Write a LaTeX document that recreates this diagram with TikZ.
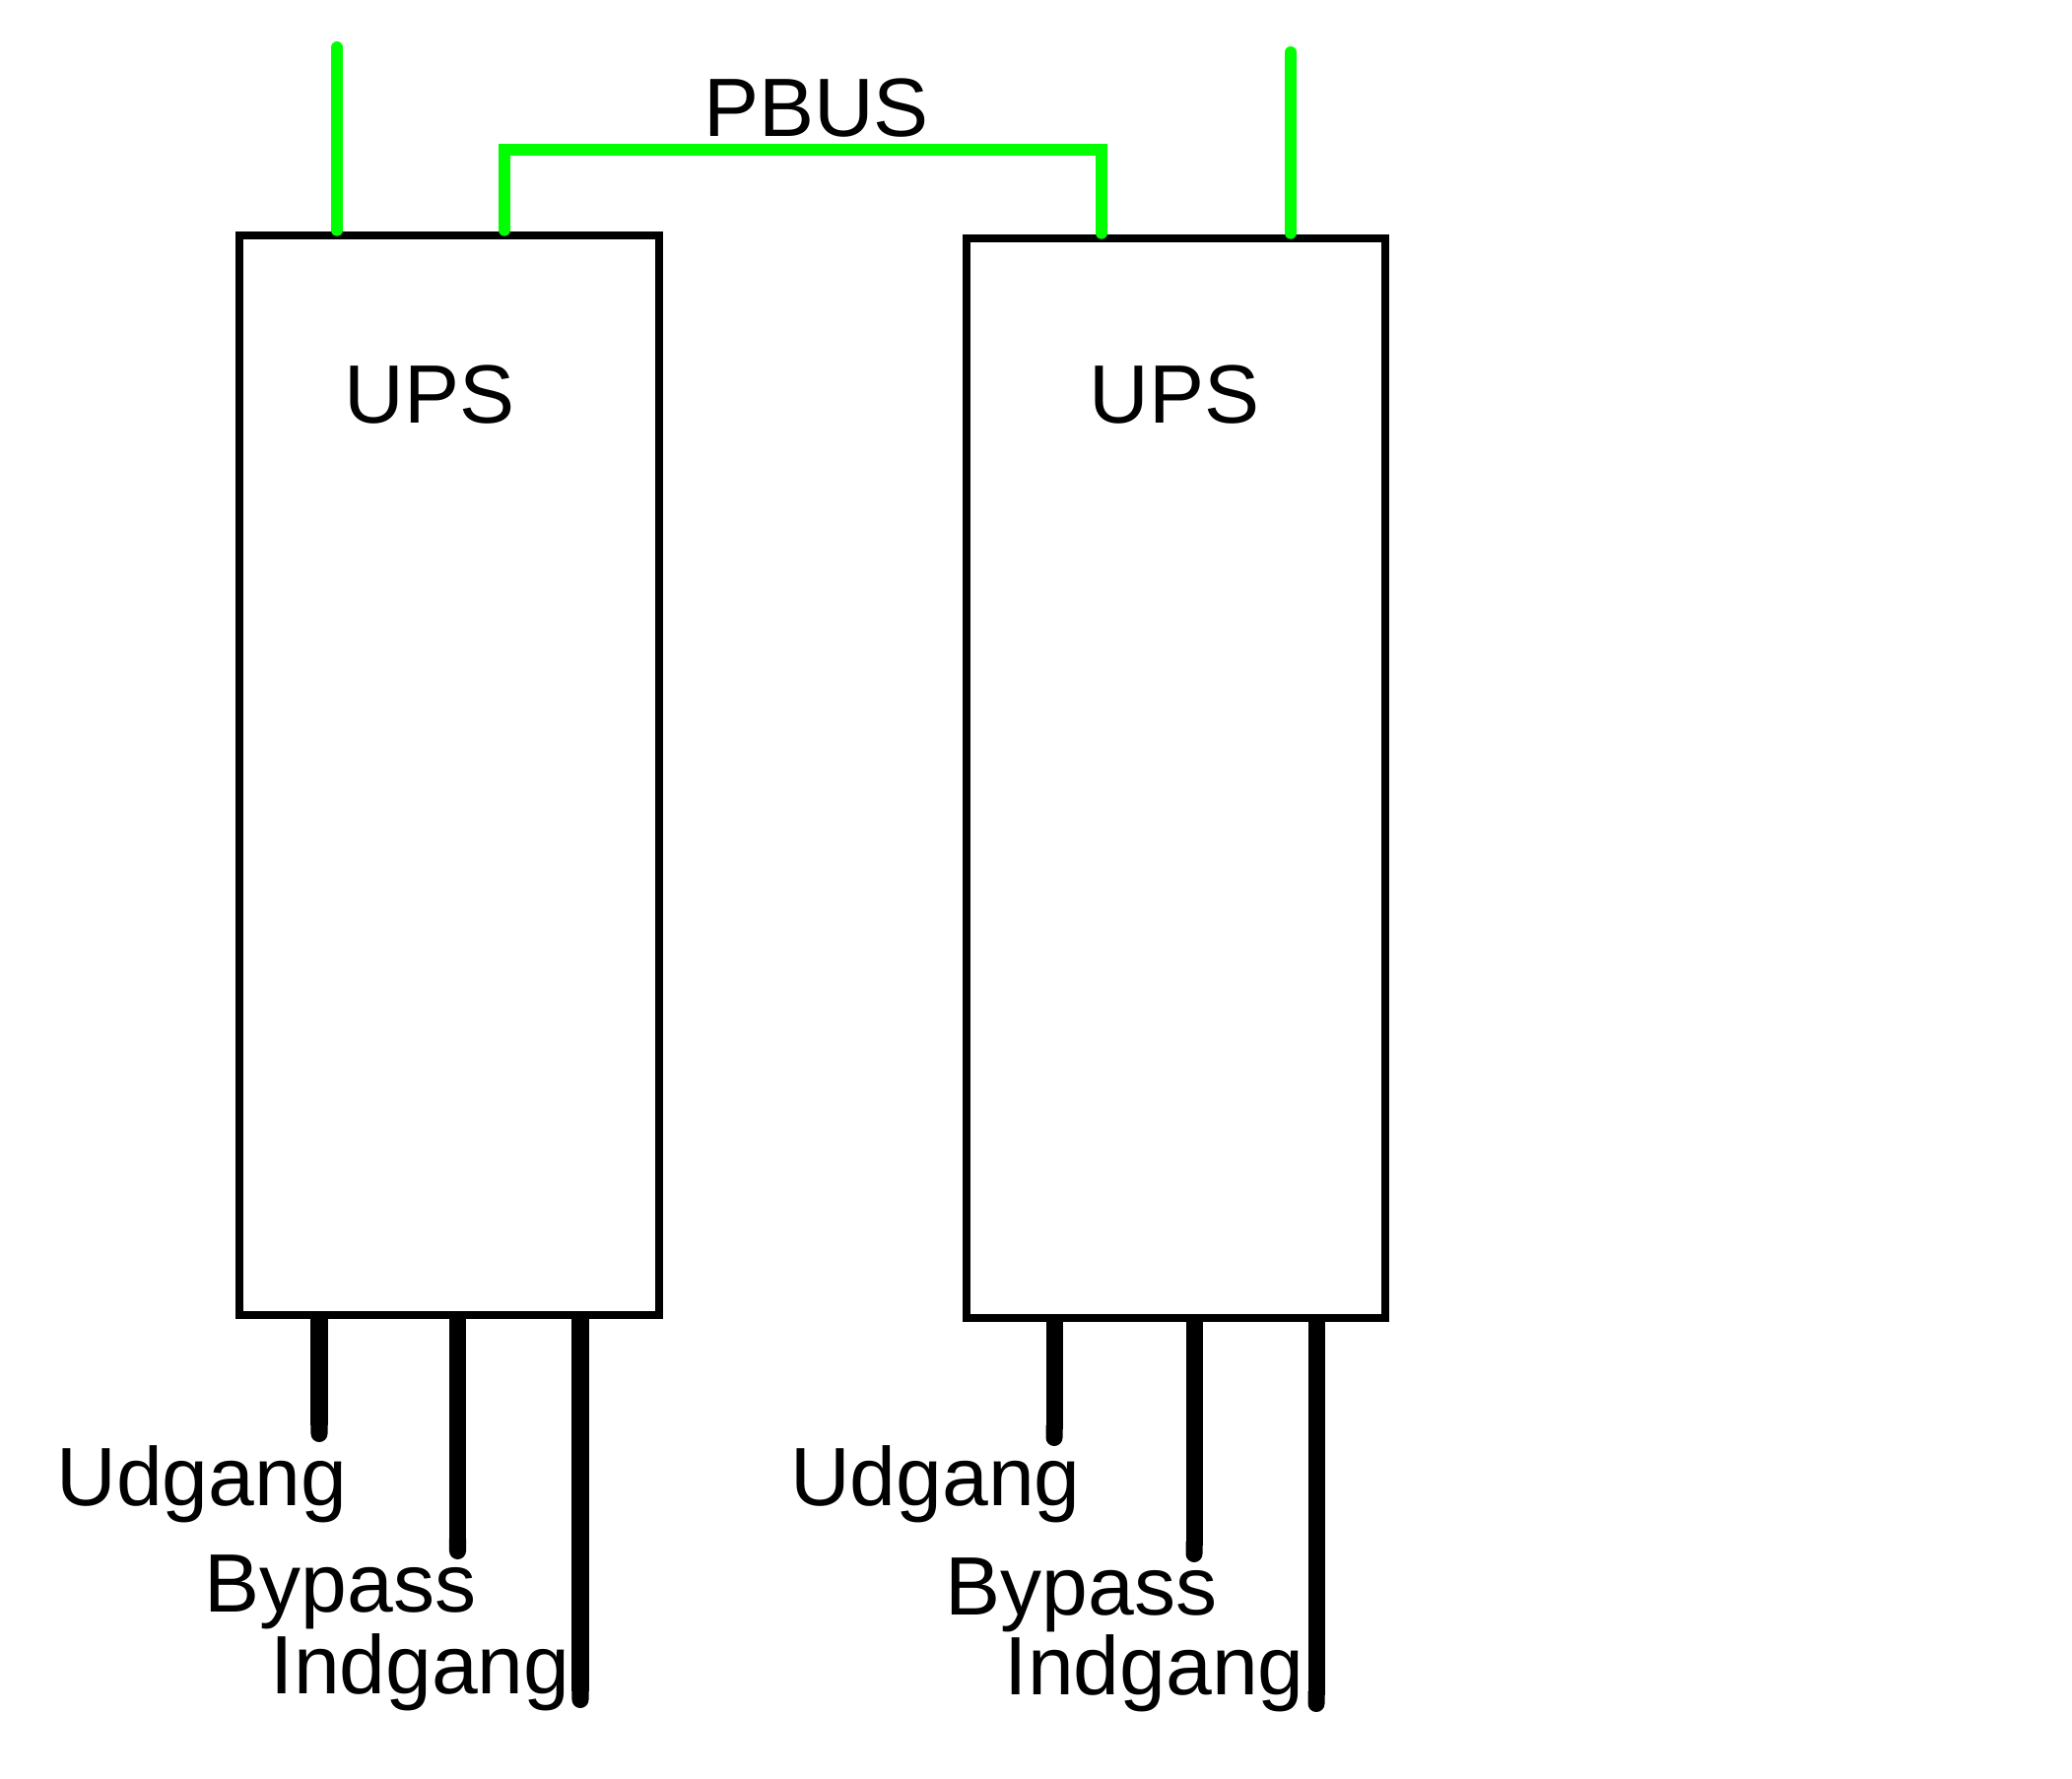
\documentclass[tikz,border=0pt]{standalone}
\usepackage{fontspec}
\setmainfont{Liberation Sans}
\usetikzlibrary{arrows.meta}
\definecolor{busgreen}{RGB}{0,255,0}
\begin{document}
\begin{tikzpicture}[x=0.01cm,y=-0.01cm,
  ups/.style={draw, line width=2.28pt, minimum width=4.255cm, minimum height=10.96cm, inner sep=0pt, outer sep=0pt},
  pbus/.style={draw=busgreen, line width=3.41pt, line cap=round, line join=miter},
  lead/.style={draw, line width=4.84pt, line cap=butt, -{Round Cap[]}},
  lbl/.style={font=\fontsize{23.9}{28}\selectfont, inner sep=0pt, anchor=base west},
  ttl/.style={font=\fontsize{23.9}{28}\selectfont, inner sep=0pt, anchor=base}]
\useasboundingbox (0,0) rectangle (2103,1805);
% boxes
\node[ups] (L) at (456,787) {};
\node[ups] (R) at (1193.5,790) {};
\node[ttl] (UL) at (436,429.5) {UPS};
\node[ttl] (UR) at (1192,429.5) {UPS};
\node[ttl] (PB) at (828.5,138.4) {PBUS};
% green connectors
\coordinate (gl) at (342,48);
\coordinate (gr) at (1310,53);
\coordinate (b1) at (512,152);
\coordinate (b2) at (1118,152);
\path (gl |- L.north) ++(0,-5) coordinate (gl0);
\path (gr |- R.north) ++(0,-5) coordinate (gr0);
\path (b1 |- L.north) ++(0,-5) coordinate (b10);
\path (b2 |- R.north) ++(0,-5) coordinate (b20);
\draw[pbus] (gl) -- (gl0);
\draw[pbus] (gr) -- (gr0);
\draw[pbus] (b10) -- (b1) -- (b2) -- (b20);
% leads
\coordinate (lu) at (324,1464);
\coordinate (lb) at (464.5,1583);
\coordinate (li) at (589,1734);
\coordinate (ru) at (1070,1468);
\coordinate (rb) at (1212,1586);
\coordinate (ri) at (1336,1738);
\draw[lead] (lu |- L.south) -- (lu);
\draw[lead] (lb |- L.south) -- (lb);
\draw[lead] (li |- L.south) -- (li);
\draw[lead] (ru |- R.south) -- (ru);
\draw[lead] (rb |- R.south) -- (rb);
\draw[lead] (ri |- R.south) -- (ri);
% labels
\node[lbl] (tlu) at (56.7,1528) {Udgang};
\node[lbl] (tlb) at (207,1636) {Bypass};
\node[lbl] (tli) at (274,1719) {Indgang};
\node[lbl] (tru) at (801.5,1528) {Udgang};
\node[lbl] (trb) at (959,1639) {Bypass};
\node[lbl] (tri) at (1019,1720) {Indgang};
\end{tikzpicture}
\end{document}
